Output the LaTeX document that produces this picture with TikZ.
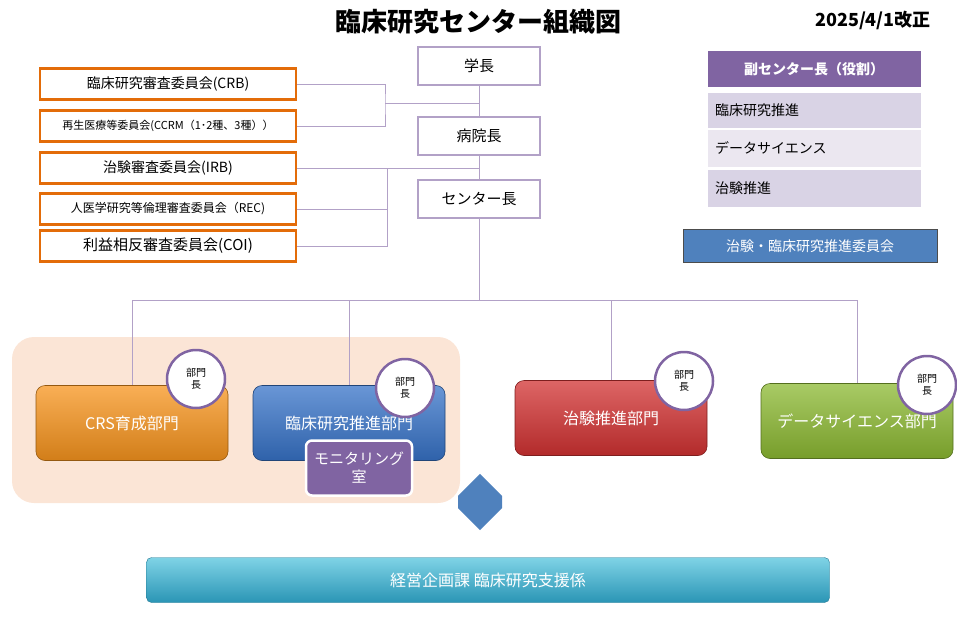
\documentclass[tikz,border=0pt]{standalone}
\usepackage{fontspec}
\setmainfont{Noto Sans CJK JP}
\usetikzlibrary{calc,shapes.arrows}
\definecolor{lav}{HTML}{B2A1C7}
\definecolor{purp}{HTML}{8064A2}
\definecolor{orng}{HTML}{E36C09}
\definecolor{peach}{HTML}{FBE5D6}
\definecolor{rowa}{HTML}{D9D3E5}
\definecolor{rowb}{HTML}{EBE7F0}
\definecolor{steel}{HTML}{4F81BD}
\definecolor{dorange}{HTML}{F7941D}
\definecolor{dblue}{HTML}{3773C8}
\definecolor{dred}{HTML}{D23232}
\definecolor{dgreen}{HTML}{8CB932}
\definecolor{teal1}{HTML}{7FD3E6}
\definecolor{teal2}{HTML}{2A95B5}
\tikzset{
  boss/.style={draw=lav,line width=2pt,fill=white,minimum width=122pt,minimum height=38pt,font=\fontsize{15}{15}\selectfont},
  cmte/.style={draw=orng,line width=2.5pt,fill=white,minimum width=256pt,minimum height=31pt,font=\fontsize{14}{14}\selectfont},
  link/.style={lav,line width=1pt},
  dept/.style={rounded corners=9pt,minimum width=192pt,minimum height=75pt,text=white,draw=#1!60!black,line width=0.6pt,top color=#1!75!white,bottom color=#1!85!black,font=\fontsize{16}{16}\selectfont},
  chief/.style={circle,draw=purp,line width=2.5pt,fill=white,minimum size=58pt,inner sep=0pt,align=center,font=\fontsize{10}{12}\selectfont},
  role/.style={minimum width=213pt,minimum height=36pt,text width=198pt,align=left,font=\fontsize{14}{14}\selectfont}
}
\begin{document}
\begin{tikzpicture}[x=1pt,y=-1pt]
\useasboundingbox (0,0) rectangle (957,621);
% title
\node (title) at (478,22) {\fontsize{26}{26}\selectfont\bfseries 臨床研究センター組織図};
\node (date) at (873,20) {\fontsize{18}{18}\selectfont\bfseries 2025/4/1改正};
% leaders
\node[boss] (pres) at (479,66) {学長};
\node[boss] (hosp) at (479,136) {病院長};
\node[boss] (dir) at (479,199) {センター長};
% committees
\node[cmte] (crb) at (168,84) {臨床研究審査委員会(CRB)};
\node[cmte,font=\fontsize{11}{11}\selectfont] (ccrm) at (168,126) {再生医療等委員会(CCRM（1･2種、3種））};
\node[cmte] (irb) at (168,168) {治験審査委員会(IRB)};
\node[cmte,font=\fontsize{12}{12}\selectfont] (rec) at (168,209) {人医学研究等倫理審査委員会（REC)};
\node[cmte,font=\fontsize{15}{15}\selectfont] (coi) at (168,246) {利益相反審査委員会(COI)};
\coordinate (jA) at (385,103);
\coordinate (jB) at (387,168);
\draw[link] (crb.east) -| (jA) |- (ccrm.east);
\draw[link] (jA) -- (jA -| pres.south);
\draw[link] (pres.south) -- (hosp.north);
\draw[link] (hosp.south) -- (dir.north);
\draw[link] (irb.east) -- (irb.east -| hosp.south);
\draw[link] (jB) |- (rec.east);
\draw[link] (jB) |- (coi.east);
% right panel
\node[role,fill=purp,text=white,align=center,font=\fontsize{14}{14}\selectfont\bfseries] (roles) at (814,69) {副センター長（役割）};
\node[role,fill=rowa,minimum height=35pt] (r1) at (814,110) {臨床研究推進};
\node[role,fill=rowb,minimum height=37pt] (r2) at (814,148) {データサイエンス};
\node[role,fill=rowa,minimum height=37pt] (r3) at (814,188) {治験推進};
\node[draw=black!70,line width=1pt,fill=steel,minimum width=254pt,minimum height=33pt,text=white,font=\fontsize{14}{14}\selectfont] (board) at (810,246) {治験・臨床研究推進委員会};
% departments
\fill[peach,rounded corners=22pt] (12,337) rectangle (460,503);
\node[dept=dorange] (crs) at (132,423) {CRS育成部門};
\node[dept=dblue] (prom) at (349,423) {臨床研究推進部門};
\node[dept=dred] (trial) at (611,418) {治験推進部門};
\node[dept=dgreen] (data) at (857,421) {データサイエンス部門};
\coordinate (bus) at (479,300);
\draw[link] (dir.south) -- (bus);
\draw[link] (crs.north |- bus) -- (data.north |- bus);
\foreach \d in {crs,prom,trial,data} \draw[link] (\d.north |- bus) -- (\d.north);
\node[chief] (c1) at (196,379) {部門\\長};
\node[chief] (c2) at (405,388) {部門\\長};
\node[chief] (c3) at (684,381) {部門\\長};
\node[chief] (c4) at (927,385) {部門\\長};
\node[fill=purp,draw=white,line width=2.5pt,rounded corners=6pt,minimum width=106pt,minimum height=55pt,align=center,text=white,font=\fontsize{15}{18}\selectfont] (mon) at (359,468) {モニタリング\\室};
% support section
\node[rounded corners=5pt,minimum width=683pt,minimum height=45pt,text=white,top color=teal1,bottom color=teal2,draw=teal2!80!black,font=\fontsize{16}{16}\selectfont] (supp) at (488,580) {経営企画課 臨床研究支援係};
\node[double arrow,rotate=90,fill=steel,minimum height=56pt,minimum width=44pt,double arrow head extend=0pt,inner sep=6pt] (arr) at (480,502) {};
\end{tikzpicture}
\end{document}
